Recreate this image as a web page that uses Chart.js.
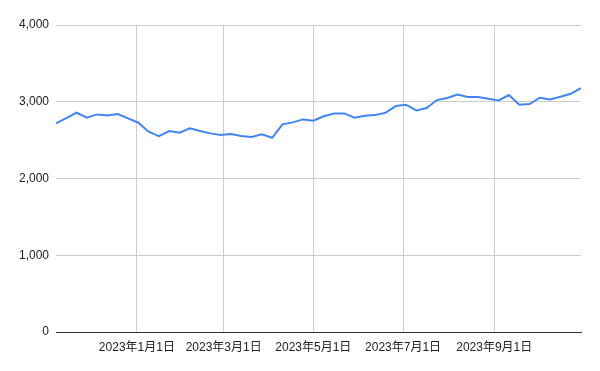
<!DOCTYPE html>
<html>
<head>
<meta charset="utf-8">
<script src="https://cdn.jsdelivr.net/npm/chart.js@4.4.1/dist/chart.umd.min.js"></script>
<style>
  html, body { margin: 0; padding: 0; background: #fff; }
  #wrap { width: 600px; height: 371px; position: relative; }
</style>
</head>
<body>
<div id="wrap"><canvas id="lineChart"></canvas></div>
<script>
// 週ごとのデータ（月曜日）
const weekDates = [
  "2022-11-07", "2022-11-14", "2022-11-21", "2022-11-28", "2022-12-05", "2022-12-12",
  "2022-12-19", "2022-12-26", "2023-01-02", "2023-01-09", "2023-01-16", "2023-01-23",
  "2023-01-30", "2023-02-06", "2023-02-13", "2023-02-20", "2023-02-27", "2023-03-06",
  "2023-03-13", "2023-03-20", "2023-03-27", "2023-04-03", "2023-04-10", "2023-04-17",
  "2023-04-24", "2023-05-01", "2023-05-08", "2023-05-15", "2023-05-22", "2023-05-29",
  "2023-06-05", "2023-06-12", "2023-06-19", "2023-06-26", "2023-07-03", "2023-07-10",
  "2023-07-17", "2023-07-24", "2023-07-31", "2023-08-07", "2023-08-14", "2023-08-21",
  "2023-08-28", "2023-09-04", "2023-09-11", "2023-09-18", "2023-09-25", "2023-10-02",
  "2023-10-09", "2023-10-16", "2023-10-23", "2023-10-30"
];

const weekValues = [
  2718, 2787, 2857, 2792, 2835, 2822, 2840, 2783, 2727, 2609, 2553, 2618,
  2596, 2655, 2618, 2588, 2566, 2579, 2553, 2540, 2575, 2531, 2705, 2731,
  2770, 2753, 2811, 2848, 2848, 2792, 2818, 2826, 2857, 2944, 2961, 2887,
  2918, 3022, 3048, 3095, 3061, 3061, 3039, 3017, 3087, 2961, 2970, 3052,
  3030, 3065, 3104, 3178
];

// 目盛り（月初）
const tickDates = ["2023-01-01", "2023-03-01", "2023-05-01", "2023-07-01", "2023-09-01"];
const yTicks = [0, 1000, 2000, 3000, 4000];

const DAY = 86400000;
const base = Date.UTC(2023, 0, 1);
function toDay(s) {
  const p = s.split("-").map(Number);
  return (Date.UTC(p[0], p[1] - 1, p[2]) - base) / DAY;
}
function dayLabel(d) {
  const dt = new Date(base + d * DAY);
  return `${dt.getUTCFullYear()}年${dt.getUTCMonth() + 1}月${dt.getUTCDate()}日`;
}

const points = weekDates.map((d, i) => ({ x: toDay(d), y: weekValues[i] }));
const tickDays = tickDates.map(toDay);

const font = { family: "Arial, 'Liberation Sans', 'Noto Sans CJK JP', sans-serif", size: 12 };

new Chart(document.getElementById("lineChart"), {
  type: "line",
  data: {
    datasets: [{
      data: points,
      borderColor: "#4285F4",
      borderWidth: 2,
      pointRadius: 0,
      tension: 0,
      fill: false
    }]
  },
  options: {
    responsive: true,
    maintainAspectRatio: false,
    animation: false,
    layout: { padding: { top: 25, right: 19, left: 0, bottom: 0 } },
    scales: {
      x: {
        type: "linear",
        min: toDay(weekDates[0]),
        max: toDay(weekDates[weekDates.length - 1]),
        afterBuildTicks: scale => {
          scale.ticks = tickDays.map(v => ({ value: v }));
        },
        afterFit: scale => { scale.height = 39; },
        ticks: {
          color: "#222",
          font: font,
          padding: 8,
          maxRotation: 0,
          autoSkip: false,
          callback: v => dayLabel(v)
        },
        grid: { color: "#cccccc", drawTicks: false },
        border: { display: true, color: "#333333", width: 1 }
      },
      y: {
        min: 0,
        max: 4000,
        afterBuildTicks: scale => {
          scale.ticks = yTicks.map(v => ({ value: v }));
        },
        afterFit: scale => { scale.width = 56; },
        ticks: {
          color: "#222",
          font: font,
          padding: 7,
          callback: v => v.toLocaleString("en-US")
        },
        grid: { color: "#cccccc", drawTicks: false },
        border: { display: false }
      }
    },
    plugins: {
      legend: { display: false },
      tooltip: { enabled: false }
    }
  }
});
</script>
</body>
</html>
